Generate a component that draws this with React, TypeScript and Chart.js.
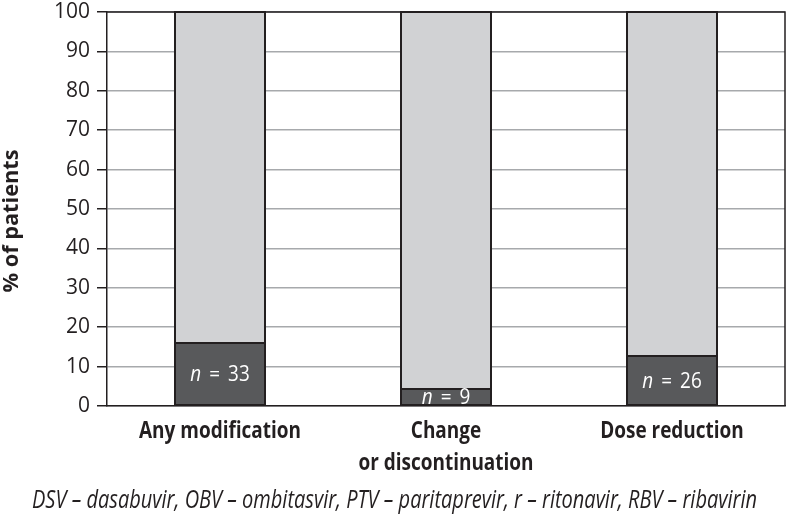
import React, { useEffect, useRef } from "react";
import { Chart, registerables } from "chart.js";

Chart.register(...registerables);

const categories: string[][] = [["Any modification"], ["Change", "or discontinuation"], ["Dose reduction"]];
const modifiedPct = [16.1, 4.4, 12.7];
const remainingPct = [83.9, 95.6, 87.3];
const nLabels = ["33", "9", "26"];
const yTicks = [0, 10, 20, 30, 40, 50, 60, 70, 80, 90, 100];
const yTitle = "% of patients";
const footnote = "DSV \u2013 dasabuvir, OBV \u2013 ombitasvir, PTV \u2013 paritaprevir, r \u2013 ritonavir, RBV \u2013 ribavirin";

const DARK = "#231f20";
const SANS = '"Open Sans", "Noto Sans", sans-serif';

// draw text horizontally condensed by factor sx
function drawScaled(ctx: CanvasRenderingContext2D, text: string, x: number, y: number, font: string, sx: number, align: "left" | "center" | "right") {
  ctx.save();
  ctx.font = font;
  const w = ctx.measureText(text).width * sx;
  let left = x;
  if (align === "center") left = x - w / 2;
  else if (align === "right") left = x - w;
  ctx.translate(left, y);
  ctx.scale(sx, 1);
  ctx.textAlign = "left";
  ctx.fillText(text, 0, 0);
  ctx.restore();
  return w;
}

const overlayPlugin = {
  id: "overlay",
  afterDatasetsDraw(chart: any) {
    const { ctx, chartArea } = chart;
    ctx.save();
    // top and right frame
    ctx.strokeStyle = DARK;
    ctx.lineWidth = 1.5;
    ctx.beginPath();
    ctx.moveTo(chartArea.left, chartArea.top);
    ctx.lineTo(chartArea.right, chartArea.top);
    ctx.lineTo(chartArea.right, chartArea.bottom);
    ctx.stroke();

    // bar outlines
    ctx.lineWidth = 2;
    ctx.strokeStyle = DARK;
    chart.data.datasets.forEach((_d: any, di: number) => {
      chart.getDatasetMeta(di).data.forEach((bar: any) => {
        const p = bar.getProps(["x", "y", "base", "width"], true);
        const l = Math.round(p.x - p.width / 2);
        const r = Math.round(p.x + p.width / 2);
        const t = Math.round(p.y);
        const b = Math.round(p.base);
        ctx.strokeRect(l, t, r - l, b - t);
      });
    });

    // labels inside dark bars
    const meta = chart.getDatasetMeta(0);
    const sxBar = 0.9;
    meta.data.forEach((bar: any, i: number) => {
      const props = bar.getProps(["x", "y", "base", "width"], true);
      const cy = (props.y + props.base) / 2 + 1;
      ctx.save();
      ctx.beginPath();
      ctx.rect(props.x - props.width / 2, props.y - 2, props.width, props.base - props.y + 2);
      ctx.clip();
      ctx.fillStyle = "#ffffff";
      ctx.textBaseline = "middle";
      const fI = "italic 21px " + SANS;
      const fR = "21px " + SANS;
      ctx.font = fI;
      const wN = ctx.measureText("n").width * sxBar;
      ctx.font = fR;
      const rest = " \u2006=\u2006 " + nLabels[i];
      const wR = ctx.measureText(rest).width * sxBar;
      const start = props.x - (wN + wR) / 2;
      drawScaled(ctx, "n", start, cy, fI, sxBar, "left");
      drawScaled(ctx, rest, start + wN, cy, fR, sxBar, "left");
      ctx.restore();
    });

    // category labels
    const xs = chart.scales.x;
    ctx.fillStyle = DARK;
    ctx.textBaseline = "alphabetic";
    const fCat = "bold 23px " + SANS;
    ctx.font = fCat;
    const sxCat = 162 / ctx.measureText("Any modification").width;
    categories.forEach((lines, i) => {
      const x = xs.getPixelForValue(i);
      lines.forEach((line, j) => {
        drawScaled(ctx, line, x, 438 + j * 32, fCat, sxCat, "center");
      });
    });

    // y title
    const fTitle = "bold 22px " + SANS;
    ctx.font = fTitle;
    const sxT = 143 / ctx.measureText(yTitle).width;
    ctx.save();
    ctx.translate(18, 221);
    ctx.rotate(-Math.PI / 2);
    drawScaled(ctx, yTitle, 0, 0, fTitle, sxT, "center");
    ctx.restore();

    // footnote
    const fFoot = "italic 25px " + SANS;
    ctx.font = fFoot;
    const sxF = 725 / ctx.measureText(footnote).width;
    drawScaled(ctx, footnote, 394.5, 508, fFoot, sxF, "center");
    ctx.restore();
  },
};

export default function App() {
  const ref = useRef<HTMLCanvasElement>(null);
  useEffect(() => {
    if (!ref.current) return;
    const chart = new Chart(ref.current, {
      type: "bar",
      data: {
        labels: categories.map((c) => c.join(" ")),
        datasets: [
          {
            label: "Modified",
            data: modifiedPct,
            backgroundColor: "#58595b",
            borderWidth: 0,
          },
          {
            label: "Not modified",
            data: remainingPct,
            backgroundColor: "#d1d2d4",
            borderWidth: 0,
          },
        ],
      },
      options: {
        responsive: false,
        animation: false,
        datasets: { bar: { barPercentage: 0.4, categoryPercentage: 1 } },
        layout: { padding: { top: 0, right: 1, left: 0, bottom: 0 } },
        plugins: { legend: { display: false }, tooltip: { enabled: false } },
        scales: {
          x: {
            stacked: true,
            grid: { display: false },
            border: { display: true, color: DARK, width: 1.5 },
            ticks: { display: false },
            afterFit: (s: any) => {
              s.height = 114;
              s.paddingLeft = 0;
              s.paddingRight = 0;
            },
          },
          y: {
            stacked: true,
            min: 0,
            max: 100,
            afterBuildTicks: (s: any) => {
              s.ticks = yTicks.map((v) => ({ value: v }));
            },
            grid: { color: "#a7a9ac", lineWidth: 1.5, tickColor: DARK, tickLength: 10 },
            border: { display: true, color: DARK, width: 1.5 },
            ticks: {
              color: DARK,
              font: { family: SANS, size: 21 },
              padding: 7,
            },
            afterFit: (s: any) => {
              s.width = 107;
              s.paddingTop = 12;
              s.paddingBottom = 0;
            },
          },
        },
      },
      plugins: [overlayPlugin],
    });
    return () => chart.destroy();
  }, []);
  return (
    <div style={{ position: "fixed", left: 0, top: 0, width: 786, height: 520, background: "#fff" }}>
      <canvas ref={ref} width={786} height={520} />
    </div>
  );
}
